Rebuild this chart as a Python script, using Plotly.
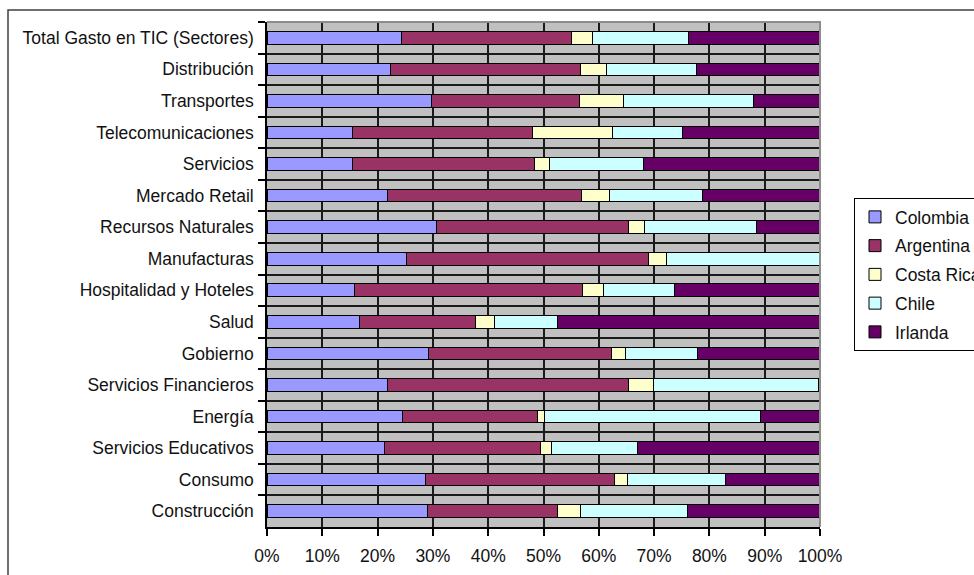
import plotly.graph_objects as go

categories = [
    "Total Gasto en TIC (Sectores)", "Distribución", "Transportes",
    "Telecomunicaciones", "Servicios", "Mercado Retail", "Recursos Naturales",
    "Manufacturas", "Hospitalidad y Hoteles", "Salud", "Gobierno",
    "Servicios Financieros", "Energía", "Servicios Educativos", "Consumo",
    "Construcción",
]

colombia   = [24.3, 22.4, 29.7, 15.4, 15.4, 21.8, 30.6, 25.3, 15.9, 16.8, 29.2, 21.7, 24.5, 21.2, 28.7, 29.0]
argentina  = [30.8, 34.3, 26.8, 32.6, 32.9, 35.0, 34.7, 43.7, 41.1, 20.9, 33.1, 43.7, 24.5, 28.3, 34.2, 23.5]
costa_rica = [3.7, 4.7, 8.0, 14.4, 2.8, 5.2, 2.9, 3.3, 3.8, 3.5, 2.6, 4.5, 1.2, 2.0, 2.3, 4.2]
chile      = [17.5, 16.3, 23.5, 12.7, 16.9, 16.7, 20.3, 27.7, 12.9, 11.3, 13.0, 29.9, 39.0, 15.5, 17.7, 19.3]
irlanda    = [23.7, 22.3, 12.0, 24.9, 32.0, 21.3, 11.5, 0.0, 26.3, 47.5, 22.1, 0.2, 10.8, 33.0, 17.1, 24.0]

series = [
    ("Colombia", colombia, "#9999FF"),
    ("Argentina", argentina, "#993366"),
    ("Costa Rica", costa_rica, "#FFFFCC"),
    ("Chile", chile, "#CCFFFF"),
    ("Irlanda", irlanda, "#660066"),
]

x_ticks = list(range(0, 101, 10))
x_tick_labels = [f"{v}%" for v in x_ticks]

fig = go.Figure()
for name, vals, color in series:
    fig.add_trace(go.Bar(
        y=categories, x=vals, name=name, orientation="h",
        marker=dict(color=color, line=dict(color="#000000", width=1)),
        legendgroup=name,
    ))

FONT = "Liberation Sans, Arial, sans-serif"

fig.update_layout(
    width=974, height=575,
    barmode="stack", bargap=0.6,
    paper_bgcolor="white", plot_bgcolor="#C0C0C0",
    margin=dict(l=267, r=154, t=22, b=48, autoexpand=False),
    font=dict(family=FONT, size=17.5, color="#111111"),
    showlegend=True,
    legend=dict(
        x=(854 - 267) / 553, xanchor="left", y=0.5, yanchor="middle",
        bordercolor="#000000", borderwidth=1, bgcolor="white",
        font=dict(family=FONT, size=17.5, color="#111111"),
        traceorder="grouped", tracegroupgap=3,
    ),
    xaxis=dict(
        range=[0, 100], tickmode="array", tickvals=x_ticks, ticktext=x_tick_labels,
        showgrid=True, gridcolor="#1a1a1a", gridwidth=1.5,
        showline=True, linecolor="#000000", linewidth=1.5,
        ticks="outside", ticklen=7, tickcolor="#000000", tickwidth=1.5,
        ticklabelstandoff=5,
        zeroline=False, fixedrange=True,
    ),
    yaxis=dict(
        type="category", autorange="reversed", tickson="boundaries",
        showgrid=True, gridcolor="#1a1a1a", gridwidth=1.5,
        showline=True, linecolor="#000000", linewidth=1.5,
        ticks="outside", ticklen=7, tickcolor="#000000", tickwidth=1.5,
        ticklabelstandoff=8,
        zeroline=False, fixedrange=True,
    ),
    shapes=[
        # gray top/right border of plot area
        dict(type="path", xref="paper", yref="paper", path="M0,1 L1,1 L1,0",
             line=dict(color="#8c8c8c", width=2), layer="above"),
        # outer chart frame
        dict(type="rect", xref="paper", yref="paper",
             x0=(8 - 267) / 553, x1=(990 - 267) / 553,
             y0=(527 - 590) / 505, y1=(527 - 10) / 505,
             line=dict(color="#404040", width=1.5), layer="below"),
    ],
)

fig.write_html("out.html")
